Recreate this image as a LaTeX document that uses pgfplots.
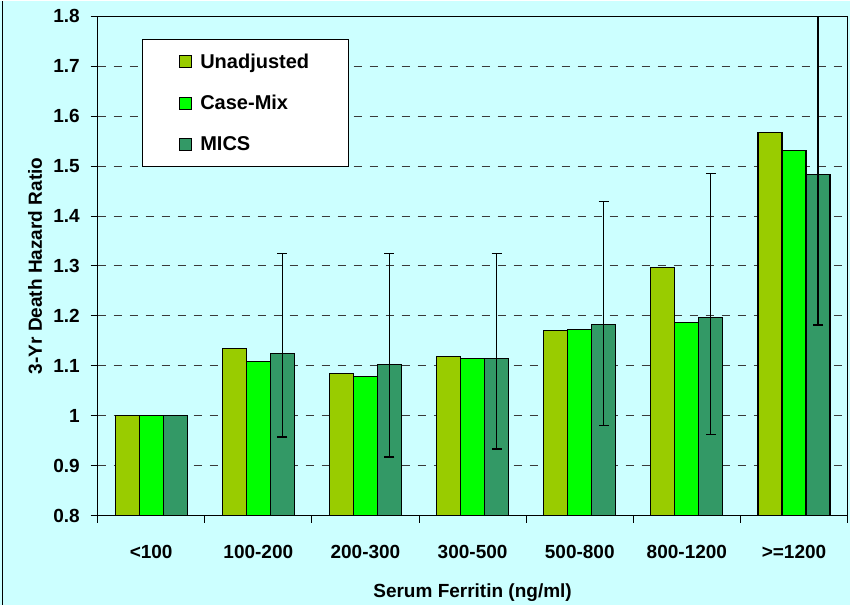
\documentclass[border=0pt]{standalone}
\usepackage{fontspec}
\setmainfont{Liberation Sans}
\usepackage{pgfplots}
\pgfplotsset{compat=1.18}
\definecolor{bg}{HTML}{CCFFFF}
\definecolor{cU}{HTML}{99CC00}
\definecolor{cC}{HTML}{00FF00}
\definecolor{cM}{HTML}{339966}
\definecolor{gridc}{HTML}{3A3A3A}
\begin{document}
\begin{tikzpicture}
\fill[bg] (-97.6bp,-89bp) rectangle (752.4bp,515bp);
\draw[black,line width=1.2bp] (-95bp,-89bp) -- (-95bp,515bp);
\begin{axis}[
  at={(0,0)}, anchor=south west,
  scale only axis, width=750bp, height=499.3bp,
  xmin=-0.5, xmax=6.5, ymin=0.8, ymax=1.8,
  ybar=0pt, bar width=24bp,
  axis background/.style={fill=bg},
  axis line style={black, line width=1bp},
  xtick={0,1,2,3,4,5,6},
  xticklabels={<100,100-200,200-300,300-500,500-800,800-1200,>=1200},
  minor xtick={-0.5,0.5,1.5,2.5,3.5,4.5,5.5,6.5},
  major x tick style={draw=none},
  minor tick length=7bp,
  major tick length=7bp,
  tick align=outside, tick pos=left,
  tick style={black, line width=1bp},
  ytick={0.8,0.9,1.0,1.1,1.2,1.3,1.4,1.5,1.6,1.7,1.8},
  yticklabels={0.8,0.9,1,1.1,1.2,1.3,1.4,1.5,1.6,1.7,1.8},
  ymajorgrids,
  y grid style={gridc, line width=1bp, dash pattern=on 8bp off 8bp},
  tick label style={font=\fontsize{19bp}{22bp}\selectfont\bfseries},
  yticklabel style={anchor=east, inner sep=0pt, xshift=-10.6bp},
  xticklabel style={anchor=base, inner sep=0pt, yshift=-36bp},
  xlabel={Serum Ferritin (ng/ml)},
  ylabel={3-Yr Death Hazard Ratio},
  every axis x label/.style={at={(axis description cs:0.5,0)}, anchor=base, yshift=-82bp,
    font=\fontsize{19bp}{22bp}\selectfont\bfseries},
  every axis y label/.style={at={(axis description cs:0,0.5)}, xshift=-62.6bp, anchor=center, rotate=90,
    font=\fontsize{19bp}{22bp}\selectfont\bfseries},
  legend style={at={(axis description cs:0.0588,0.955)}, anchor=north west,
    draw=black, fill=white, line width=1bp, inner xsep=37bp, inner ysep=12.5bp,
    row sep=21.5bp,
    font=\fontsize{20bp}{24bp}\selectfont\bfseries},
  legend cell align=left,
  legend image code/.code={\draw[#1,line width=1bp] (0bp,-6bp) rectangle (12bp,6bp); \path (18bp,0bp);},
]
\addplot[fill=cU, draw=black, line width=1.2bp] coordinates {(0,1.0) (1,1.134) (2,1.085) (3,1.119) (4,1.170) (5,1.297) (6,1.567)};
\addplot[fill=cC, draw=black, line width=1.2bp] coordinates {(0,1.0) (1,1.108) (2,1.079) (3,1.114) (4,1.173) (5,1.186) (6,1.531)};
\addplot[fill=cM, draw=black, line width=1.2bp,
  error bars/.cd, y dir=both, y explicit,
  error bar style={black, line width=1.2bp},
  error mark options={rotate=90, mark size=5bp, line width=1.5bp, black}]
  coordinates {
  (0,1.0) += (0,0.0) -= (0,0.0)
  (1,1.125) += (0,0.200) -= (0,0.168)
  (2,1.102) += (0,0.223) -= (0,0.185)
  (3,1.114) += (0,0.211) -= (0,0.181)
  (4,1.182) += (0,0.247) -= (0,0.202)
  (5,1.197) += (0,0.288) -= (0,0.235)
  (6,1.483) += (0,0.340) -= (0,0.301)
  };
\legend{Unadjusted,Case-Mix,MICS}
\end{axis}
\end{tikzpicture}
\end{document}
